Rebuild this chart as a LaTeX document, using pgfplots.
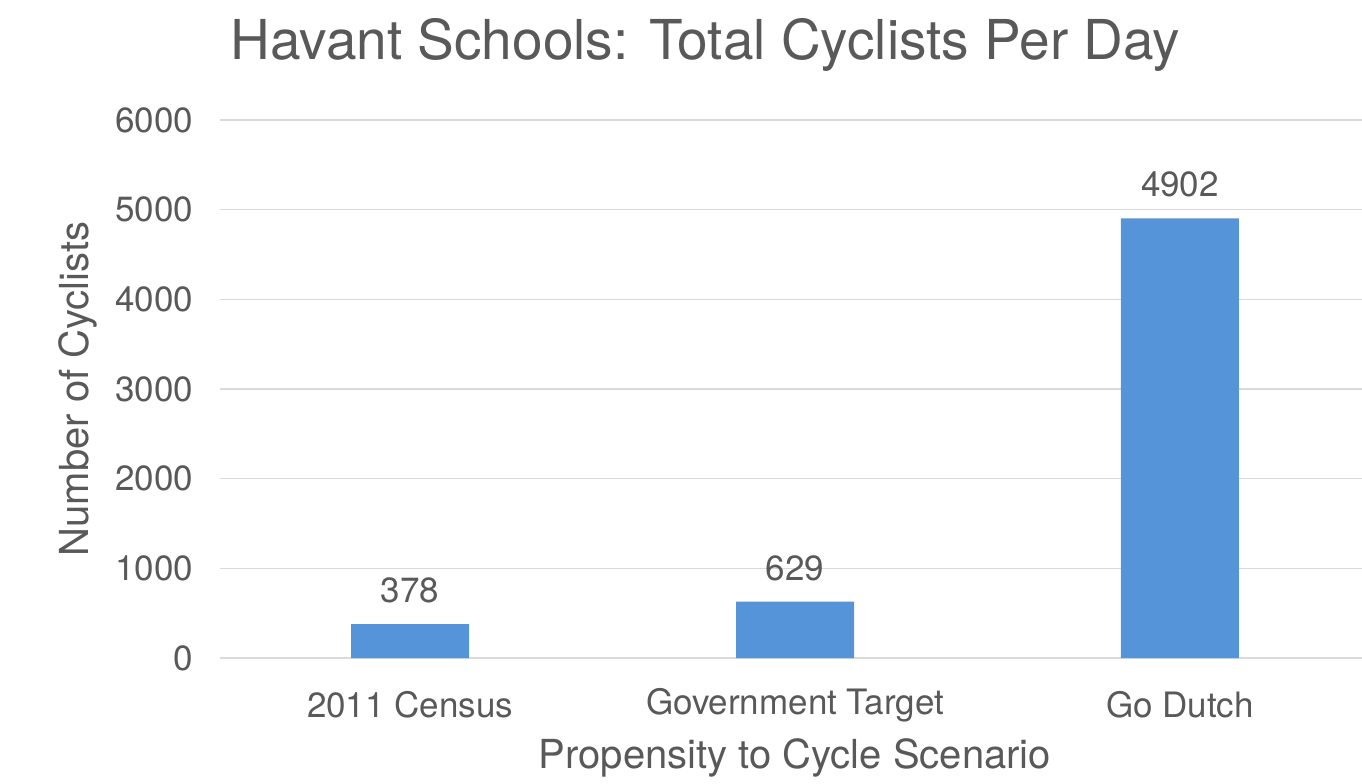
\documentclass[border=0pt]{standalone}
\usepackage{pgfplots}
\pgfplotsset{compat=1.18}
\usepackage{fontspec}
\setmainfont{TeX Gyre Heros}
\definecolor{barblue}{HTML}{5594D8}
\definecolor{txtgrey}{HTML}{595959}
\definecolor{gridgrey}{HTML}{DADADA}
\begin{document}
\begin{tikzpicture}
\path[use as bounding box] (-110pt,-62.5pt) rectangle (571pt,329pt);
\begin{axis}[
  at={(0,0)}, anchor=south west,
  scale only axis,
  width=571pt, height=269pt,
  xmin=-0.494, xmax=2.473,
  ymin=0, ymax=6000,
  ybar, bar width=59pt,
  xtick={0,1,2},
  xticklabels={2011 Census, Government Target, Go Dutch},
  ytick={0,1000,2000,3000,4000,5000,6000},
  ymajorgrids, grid style={gridgrey, line width=0.8pt},
  axis line style={draw=none},
  major tick length=0pt,
  /pgf/number format/assume math mode=true,
  /pgf/number format/1000 sep={},
  tick label style={font=\fontsize{17.5}{19}\selectfont, text=txtgrey},
  xticklabel style={anchor=center, yshift=-23.5pt},
  yticklabel style={anchor=east, xshift=-10pt},
  title={Havant Schools: Total Cyclists Per Day},
  title style={at={(axis description cs:0.425,1.117)}, anchor=center, font=\fontsize{27.5}{32}\selectfont, text=txtgrey},
  xlabel={Propensity to Cycle Scenario},
  xlabel style={at={(axis description cs:0.5035,-0.186)}, anchor=center, font=\fontsize{20}{22}\selectfont, text=txtgrey},
  ylabel={Number of Cyclists},
  ylabel style={at={(axis description cs:-0.124,0.5)}, anchor=center, rotate=0, font=\fontsize{20}{22}\selectfont, text=txtgrey},
  nodes near coords,
  nodes near coords style={font=\fontsize{17.5}{19}\selectfont, text=txtgrey, yshift=7pt},
]
\addplot[fill=barblue, draw=none] coordinates {(0,378) (1,629) (2,4902)};
\end{axis}
\end{tikzpicture}
\end{document}
